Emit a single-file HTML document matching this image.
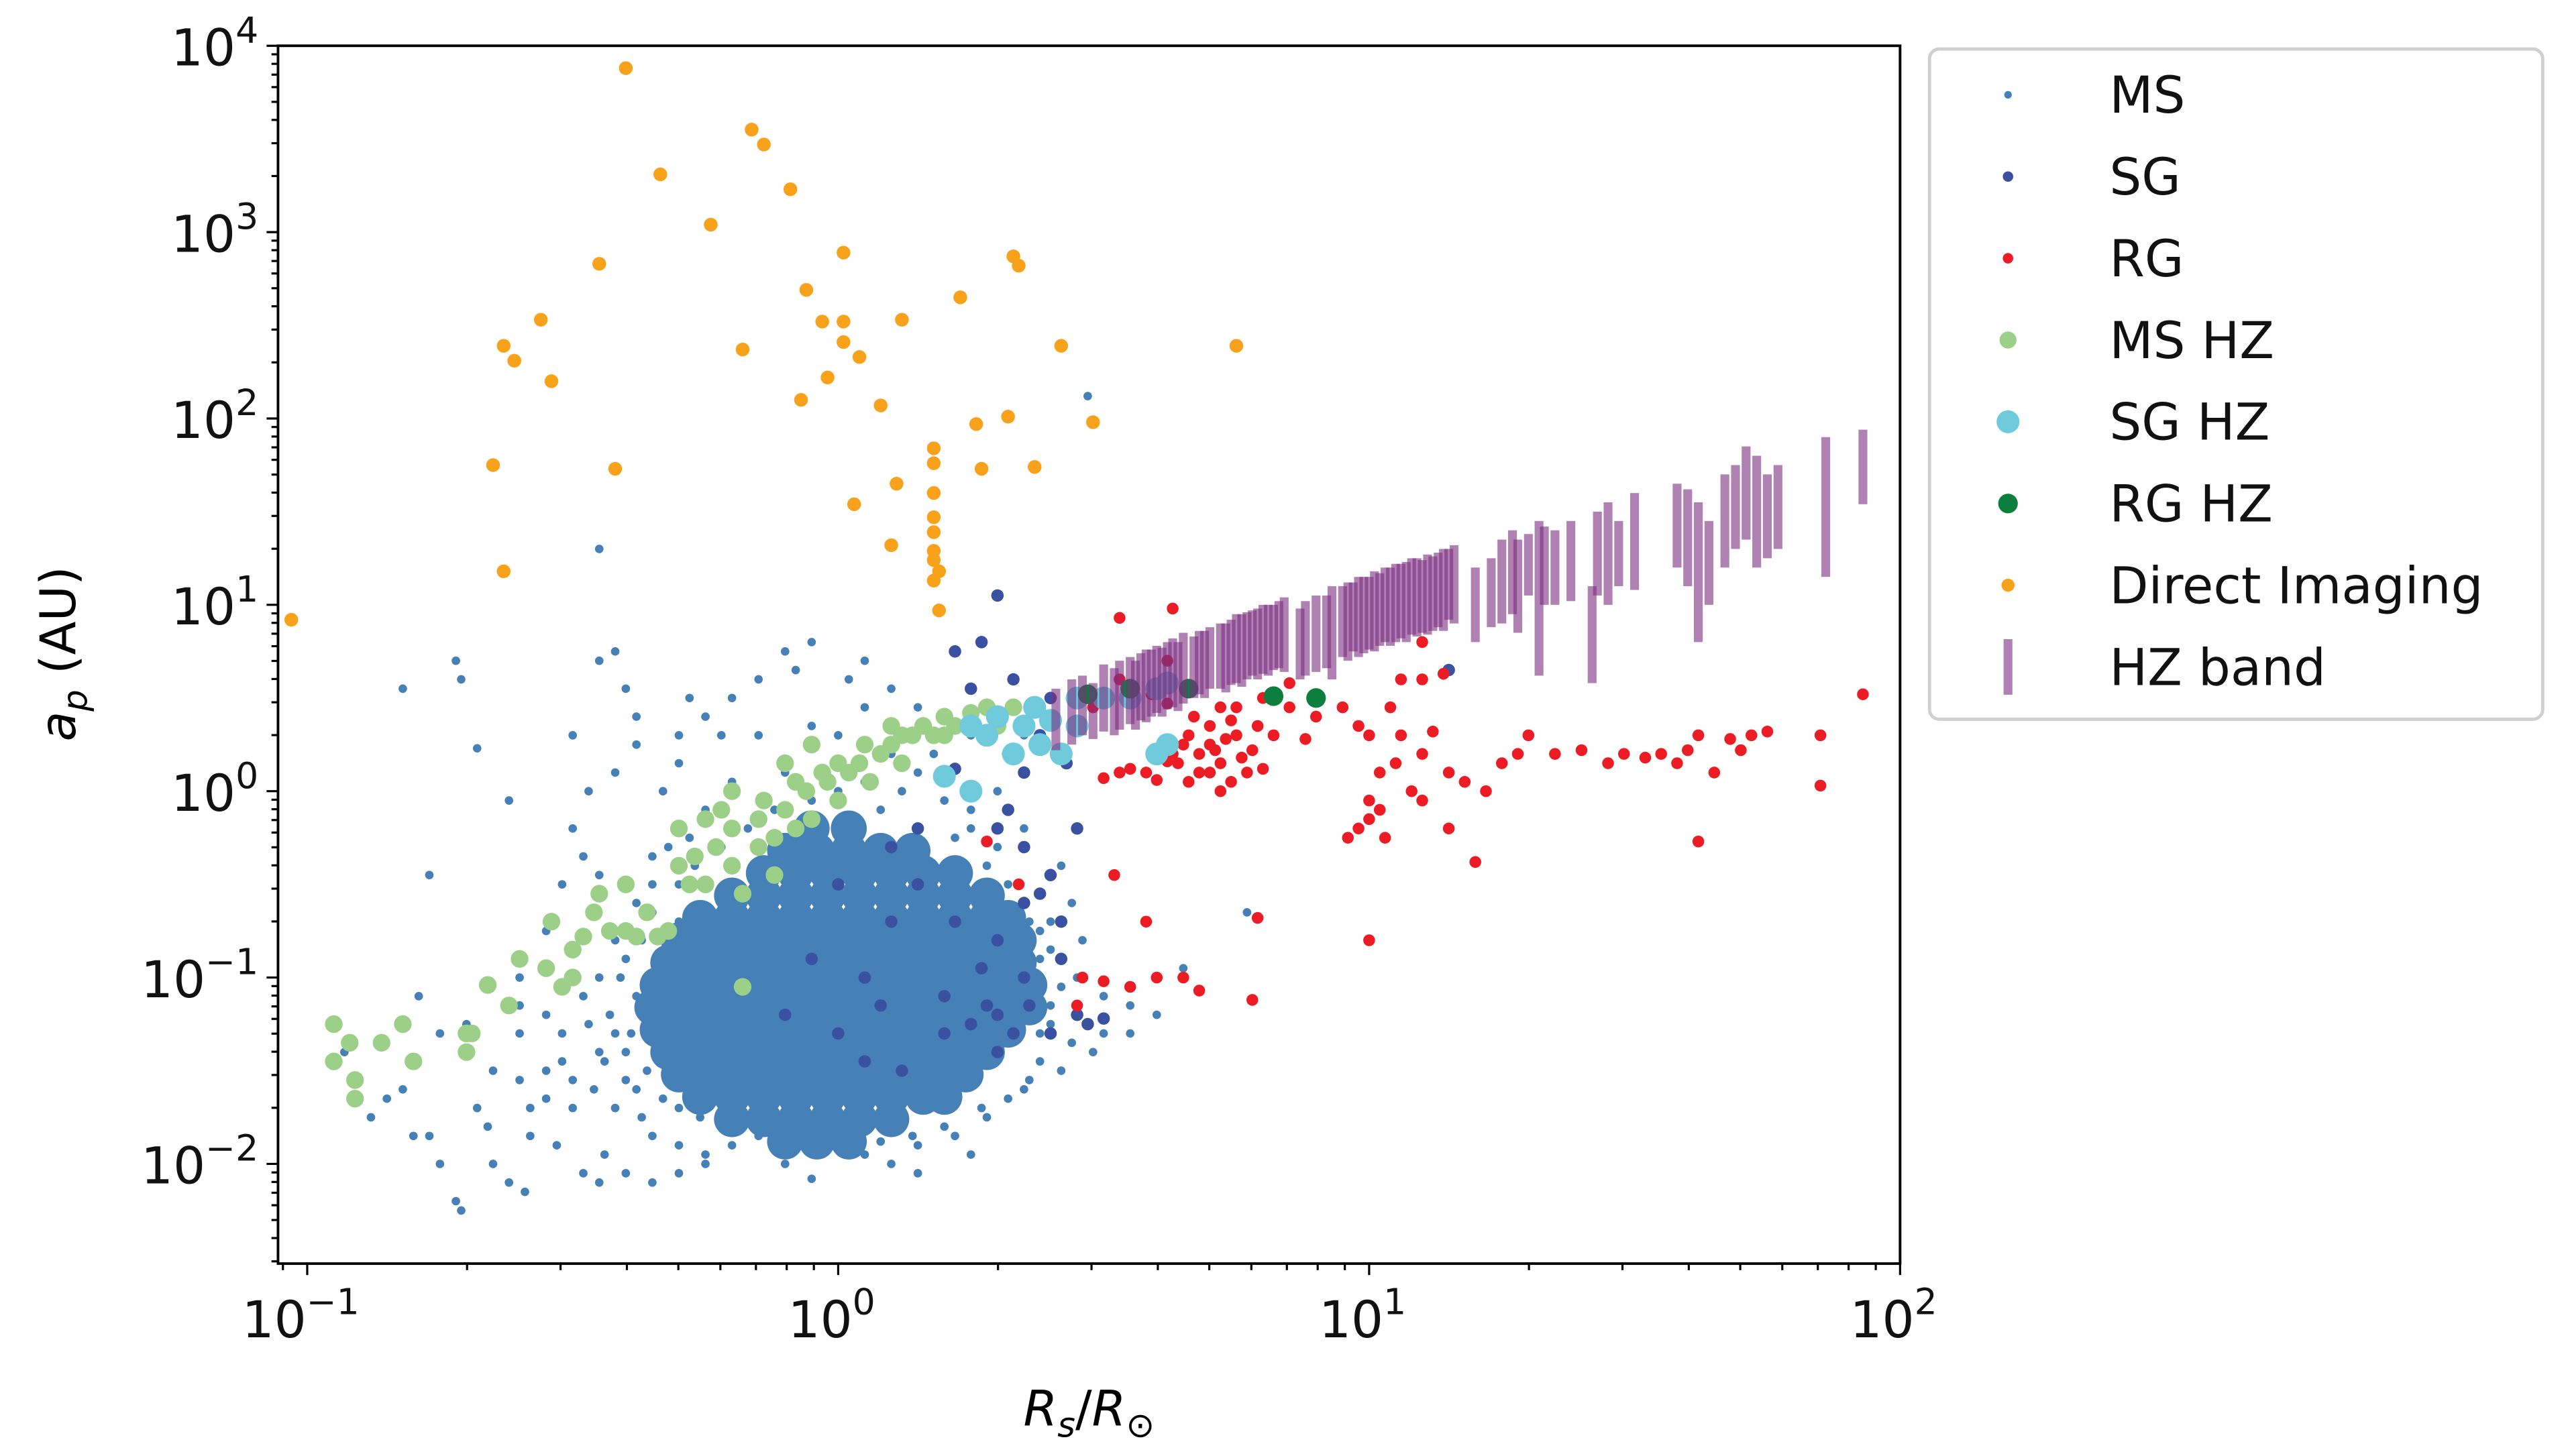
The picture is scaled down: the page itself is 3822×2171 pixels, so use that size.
<!DOCTYPE html>
<html><head><meta charset="utf-8"><style>
html,body{margin:0;padding:0;background:#fff;}
svg{display:block;font-family:"DejaVu Sans","Liberation Sans",sans-serif;}
</style></head><body>
<svg id="chart" width="3822" height="2171" viewBox="0 0 1568 890.7" xmlns="http://www.w3.org/2000/svg">
<rect width="1568" height="890.7" fill="#fff"/>
<g id="marks"></g>
<g id="axes"></g>
<g id="legend"></g>
</svg>
<script>
// ---- data (log10 values) ----
const xTicks = [-1, 0, 1, 2];
const yTicks = [-2, -1, 0, 1, 2, 3, 4];
const msScatter = [[-0.82,0.55],[-0.72,0.7],[-0.71,0.6],[-0.68,0.23],[-0.62,-0.05],[-0.77,-0.45],[-0.79,-1.1],[-0.85,-1.65],[-0.93,-1.4],[-0.82,-1.6],[-0.75,-1.3],[-0.7,-1.25],[-0.72,-2.2],[-0.71,-2.25],[-0.65,-2.0],[-0.62,-2.1],[-0.59,-2.15],[-0.6,-1.55],[-0.58,-1.7],[-0.66,-1.8],[-0.75,-2.0],[-0.77,-1.85],[-0.8,-1.85],[-0.88,-1.75],[-0.5,0.3],[-0.45,0.7],[-0.42,0.75],[-0.4,0.55],[-0.38,0.4],[-0.42,0.1],[-0.47,0.0],[-0.5,-0.2],[-0.48,-0.35],[-0.52,-0.5],[-0.55,-0.75],[-0.6,-1.0],[-0.55,-1.2],[-0.52,-1.45],[-0.55,-1.5],[-0.5,-1.7],[-0.53,-1.9],[-0.48,-2.05],[-0.45,-2.1],[-0.4,-2.05],[-0.44,-1.95],[-0.35,-2.1],[-0.3,-2.05],[-0.38,0.25],[-0.33,0.0],[-0.3,0.15],[-0.28,0.5],[-0.2,0.5],[-0.15,0.6],[-0.1,0.75],[-0.05,0.8],[-0.08,0.65],[0.02,0.6],[0.05,0.7],[0.1,0.55],[-0.25,-0.1],[-0.32,-0.3],[-0.38,-0.6],[-0.42,-0.8],[-0.45,-1.0],[-0.42,-1.3],[-0.4,-1.55],[-0.37,-1.75],[-0.35,-1.85],[-0.42,-1.7],[-0.46,-1.6],[-0.3,-1.9],[-0.25,-1.95],[-0.2,-1.9],[0.3,0.4],[0.35,0.3],[0.25,0.3],[0.3,0.0],[0.35,-0.2],[0.42,-0.4],[0.4,-0.7],[0.45,-1.0],[0.38,-1.3],[0.42,-1.5],[0.35,-1.6],[0.28,-1.75],[0.22,-1.85],[0.15,-1.9],[-0.45,1.3],[0.47,2.12],[0.77,-0.65],[0.65,-0.95],[-0.15,0.3],[-0.1,0.1],[0.0,0.3],[0.1,0.2],[0.2,0.1],[-0.35,-0.5],[-0.3,-0.7],[-0.45,-1.4],[-0.38,-1.1],[0.38,-0.9],[0.4,-1.15],[0.05,-1.95],[-0.1,-2.0],[0.1,-2.0],[-0.6,-1.3],[-0.65,-1.5],[-0.68,-1.7],[-0.58,-1.85],[-0.52,-1.3],[0.15,0.45],[-0.22,0.3],[0.25,-0.2],[-0.28,-0.25]];
const msEdge = [[-0.4,-0.9],[-0.41,-1.0],[-0.43,-1.2],[-0.44,-1.45],[-0.4,-1.4],[-0.38,-1.6],[-0.36,-1.5],[-0.39,-1.3],[-0.37,-0.8],[-0.35,-0.65],[-0.3,-0.5],[-0.27,-0.4],[-0.22,-0.3],[-0.17,-0.2],[-0.12,-0.1],[-0.05,-0.05],[0.0,0.0],[0.05,0.05],[0.08,-0.1],[0.12,0.0],[0.15,0.1],[0.2,-0.05],[0.22,-0.25],[0.28,-0.4],[0.32,-0.5],[0.36,-0.7],[0.38,-0.75],[0.4,-0.85],[0.42,-1.05],[0.4,-1.25],[0.44,-1.35],[0.38,-1.45],[0.36,-1.55],[0.32,-1.65],[0.27,-1.7],[0.2,-1.8],[0.14,-1.85],[0.08,-1.88],[0.0,-1.9],[-0.08,-1.92],[-0.15,-1.85],[-0.2,-1.78],[-0.26,-1.75],[-0.3,-1.7],[-0.33,-1.65],[-0.47,-1.25],[-0.48,-1.1],[-0.5,-1.55],[0.48,-1.4],[0.5,-1.3],[0.5,-1.1],[0.46,-0.8],[0.44,-0.6],[0.3,-0.3],[0.25,-0.1],[0.18,0.2],[-0.2,0.05],[-0.3,0.3],[-0.25,0.4],[0.05,0.45],[-0.05,0.35],[-0.45,-0.45],[-0.35,-0.35],[-0.6,-1.15],[-0.55,-1.65],[-0.05,-2.08],[0.15,-2.05],[0.25,-1.95],[-0.25,-2.0],[0.55,-1.15],[0.55,-1.3],[0.6,-1.2]];
const msCoreA = [-0.2,-0.32,-0.44,-0.56,-0.68,-0.8,-0.92,-1.04,-1.16,-1.28,-1.4,-1.52,-1.64,-1.76,-1.88];
const msCoreR = [[-0.05,0.02],[-0.1,-0.04,0.02,0.08,0.14],[-0.14,-0.08,-0.02,0.04,0.1,0.16,0.22],[-0.2,-0.14,-0.08,-0.02,0.04,0.1,0.16,0.22,0.28],[-0.26,-0.2,-0.14,-0.08,-0.02,0.04,0.1,0.16,0.22,0.28,0.32],[-0.3,-0.24,-0.18,-0.12,-0.06,0.0,0.06,0.12,0.18,0.24,0.3,0.34],[-0.32,-0.26,-0.2,-0.14,-0.08,-0.02,0.04,0.1,0.16,0.22,0.28,0.34],[-0.34,-0.28,-0.22,-0.16,-0.1,-0.04,0.02,0.08,0.14,0.2,0.26,0.32,0.36],[-0.35,-0.29,-0.23,-0.17,-0.11,-0.05,0.01,0.07,0.13,0.19,0.25,0.31,0.36],[-0.34,-0.28,-0.22,-0.16,-0.1,-0.04,0.02,0.08,0.14,0.2,0.26,0.32],[-0.32,-0.26,-0.2,-0.14,-0.08,-0.02,0.04,0.1,0.16,0.22,0.28],[-0.3,-0.24,-0.18,-0.12,-0.06,0.0,0.06,0.12,0.18,0.24],[-0.26,-0.2,-0.14,-0.08,-0.02,0.04,0.1,0.16,0.2],[-0.2,-0.14,-0.08,-0.02,0.04,0.1],[-0.1,-0.04,0.02]];
const sgPts = [[0.3,1.05],[0.27,0.8],[0.22,0.75],[0.33,0.6],[0.4,0.5],[0.38,0.3],[0.35,0.1],[0.32,-0.1],[0.35,-0.3],[0.4,-0.45],[0.35,-0.6],[0.3,-0.8],[0.35,-1.0],[0.28,-1.15],[0.25,-1.25],[0.3,-1.4],[0.4,-1.3],[0.45,-1.2],[0.42,-0.9],[0.2,-1.3],[0.1,-0.7],[0.05,-1.0],[-0.05,-0.9],[0.15,-0.5],[0.2,-1.1],[0.45,-0.2],[0.43,0.15],[0.25,0.55],[0.18,0.3],[0.22,0.12],[0.15,-0.2],[0.1,-0.3],[0.0,-0.5],[0.5,-1.22],[0.47,-1.25],[0.12,-1.5],[0.05,-1.45],[1.15,0.65],[0.82,0.52],[0.3,-1.2],[0.33,-1.3],[0.36,-1.15],[0.27,-0.95],[0.22,-0.7],[0.38,-0.55],[0.42,-0.7],[0.32,0.2],[0.3,-0.2],[-0.1,-1.2],[0.0,-1.3],[0.08,-1.15]];
const rgPts = [[0.5,0.07],[0.53,0.1],[0.55,0.12],[0.58,0.1],[0.6,0.06],[0.62,0.16],[0.63,0.2],[0.65,0.25],[0.66,0.3],[0.68,0.2],[0.68,0.1],[0.7,0.25],[0.7,0.35],[0.72,0.15],[0.73,0.28],[0.74,0.05],[0.75,0.3],[0.76,0.18],[0.77,0.1],[0.78,0.22],[0.79,0.35],[0.8,0.12],[0.82,0.3],[0.8,0.5],[0.72,0.45],[0.62,0.47],[0.59,0.52],[0.53,0.6],[0.53,0.93],[0.62,0.7],[0.85,0.45],[0.88,0.28],[0.9,0.4],[0.95,0.45],[0.98,0.35],[1.0,0.3],[1.02,0.1],[1.05,0.15],[1.06,0.3],[1.1,0.2],[1.12,0.32],[1.15,0.1],[1.08,0.0],[1.02,-0.1],[1.0,-0.15],[1.03,-0.25],[0.98,-0.2],[0.96,-0.25],[1.04,0.45],[1.06,0.6],[1.1,0.6],[1.0,-0.05],[1.1,-0.05],[1.15,-0.2],[1.2,-0.38],[1.18,0.05],[1.22,0.0],[1.25,0.15],[1.28,0.2],[1.3,0.3],[1.35,0.2],[1.4,0.22],[1.45,0.15],[1.48,0.2],[1.52,0.18],[1.55,0.2],[1.58,0.15],[1.6,0.22],[1.62,0.3],[1.65,0.1],[1.68,0.28],[1.7,0.22],[1.72,0.3],[1.75,0.32],[1.62,-0.27],[1.85,0.03],[1.85,0.3],[1.93,0.52],[0.28,-0.27],[0.34,-0.5],[0.52,-0.45],[0.58,-0.7],[0.46,-1.0],[0.5,-1.02],[0.55,-1.05],[0.6,-1.0],[0.65,-1.0],[0.68,-1.07],[0.45,-1.15],[0.78,-1.12],[0.79,-0.68],[1.0,-0.8],[0.48,0.45],[0.85,0.58],[0.63,0.98],[1.14,0.63],[1.1,0.8],[0.75,0.45],[0.64,0.15],[0.66,0.05],[0.7,0.1],[0.72,0.0],[0.6,0.2],[0.67,0.4],[0.71,0.22],[0.74,0.38]];
const msHzPts = [[-0.95,-1.25],[-0.95,-1.45],[-0.92,-1.35],[-0.91,-1.55],[-0.91,-1.65],[-0.86,-1.35],[-0.82,-1.25],[-0.8,-1.45],[-0.7,-1.3],[-0.69,-1.3],[-0.66,-1.04],[-0.62,-1.15],[-0.55,-0.95],[-0.54,-0.7],[-0.52,-1.05],[-0.5,-0.85],[-0.48,-0.78],[-0.45,-0.55],[-0.43,-0.75],[-0.4,-0.75],[-0.38,-0.78],[-0.36,-0.65],[-0.34,-0.78],[-0.32,-0.75],[-0.3,-0.4],[-0.28,-0.5],[-0.27,-0.35],[-0.25,-0.5],[-0.23,-0.3],[-0.2,-0.4],[-0.2,-0.2],[-0.18,-0.55],[-0.15,-0.3],[-0.15,-0.15],[-0.12,-0.25],[-0.1,-0.1],[-0.08,-0.2],[-0.06,0.0],[-0.05,-0.15],[-0.02,0.05],[0.0,-0.05],[0.02,0.1],[0.04,0.15],[0.06,0.05],[0.08,0.2],[0.1,0.25],[0.12,0.15],[0.14,0.3],[0.16,0.35],[0.18,0.3],[0.2,0.4],[0.22,0.35],[0.25,0.42],[0.28,0.45],[0.3,0.35],[0.33,0.45],[-0.1,0.15],[-0.2,0.0],[-0.3,-0.2],[-0.25,-0.15],[-0.05,0.25],[0.1,0.35],[-0.12,-0.45],[-0.4,-0.5],[-0.5,-1.0],[-0.46,-0.65],[-0.6,-0.9],[-0.7,-1.4],[-0.18,-1.05],[-0.08,0.05],[-0.03,0.1],[0.0,0.15],[-0.14,-0.05],[-0.22,-0.1],[0.05,0.25],[0.12,0.3],[0.2,0.3]];
const sgHzPts = [[0.2,0.08],[0.25,0.0],[0.33,0.2],[0.28,0.3],[0.3,0.4],[0.35,0.35],[0.37,0.45],[0.4,0.38],[0.38,0.25],[0.42,0.2],[0.45,0.5],[0.5,0.5],[0.55,0.5],[0.6,0.55],[0.62,0.58],[0.6,0.2],[0.62,0.25],[0.25,0.35],[0.45,0.35]];
const rgHzPts = [[0.47,0.52],[0.55,0.55],[0.82,0.51],[0.9,0.5],[0.66,0.55]];
const diPts = [[-0.40,3.88],[-0.163,3.55],[-0.14,3.47],[-0.335,3.31],[-0.09,3.23],[-0.24,3.04],[0.01,2.89],[-0.45,2.83],[0.33,2.87],[0.34,2.82],[-0.06,2.69],[0.23,2.65],[-0.56,2.53],[-0.03,2.52],[0.01,2.52],[0.12,2.53],[-0.63,2.39],[0.42,2.39],[0.01,2.41],[-0.18,2.37],[-0.61,2.31],[0.04,2.33],[0.75,2.39],[-0.02,2.22],[-0.54,2.20],[-0.07,2.10],[0.08,2.07],[0.26,1.97],[0.32,2.01],[0.48,1.98],[0.18,1.84],[0.18,1.76],[-0.65,1.75],[-0.42,1.73],[0.27,1.73],[0.37,1.74],[0.11,1.65],[0.18,1.60],[0.03,1.54],[0.18,1.47],[0.18,1.39],[0.10,1.32],[0.18,1.29],[0.18,1.24],[0.19,1.18],[-0.63,1.18],[0.18,1.13],[-1.03,0.92],[0.19,0.97]];
const hzR = [0.41,0.44,0.46,0.48,0.5,0.52,0.53,0.55,0.56,0.57,0.58,0.59,0.6,0.61,0.62,0.63,0.64,0.65,0.67,0.68,0.69,0.7,0.72,0.73,0.74,0.75,0.76,0.77,0.78,0.79,0.8,0.81,0.82,0.83,0.84,0.87,0.88,0.9,0.92,0.93,0.95,0.96,0.97,0.98,0.99,1.0,1.01,1.02,1.03,1.04,1.05,1.06,1.07,1.08,1.09,1.1,1.11,1.12,1.13,1.14,1.15,1.16,1.2,1.23,1.25,1.27,1.28,1.3,1.32,1.33,1.35,1.38,1.42,1.43,1.45,1.47,1.5,1.58,1.6,1.62,1.64,1.67,1.69,1.71,1.73,1.75,1.77,1.86,1.93];
const hzLo = [0.22,0.25,0.3,0.28,0.32,0.3,0.33,0.36,0.33,0.38,0.37,0.4,0.42,0.4,0.44,0.45,0.43,0.47,0.5,0.52,0.5,0.55,0.55,0.53,0.57,0.58,0.56,0.6,0.62,0.6,0.63,0.62,0.65,0.66,0.64,0.6,0.62,0.64,0.66,0.6,0.72,0.7,0.75,0.72,0.74,0.76,0.75,0.78,0.8,0.78,0.8,0.82,0.8,0.84,0.83,0.85,0.84,0.86,0.88,0.86,0.92,0.9,0.8,0.88,0.9,0.95,0.85,1.05,0.62,1.0,1.0,1.02,0.58,1.05,1.0,1.1,1.08,1.2,1.1,0.8,1.0,1.2,1.3,1.35,1.2,1.25,1.3,1.15,1.54];
const hzHi = [0.55,0.6,0.62,0.58,0.68,0.66,0.7,0.72,0.7,0.74,0.76,0.76,0.78,0.77,0.8,0.82,0.8,0.85,0.83,0.86,0.86,0.88,0.9,0.9,0.92,0.95,0.95,0.96,0.97,0.98,1.0,1.0,1.0,1.02,1.04,0.98,1.02,1.05,1.05,1.1,1.1,1.12,1.12,1.15,1.15,1.15,1.18,1.17,1.2,1.2,1.22,1.22,1.23,1.25,1.25,1.24,1.27,1.26,1.28,1.3,1.3,1.32,1.2,1.25,1.35,1.4,1.35,1.38,1.45,1.42,1.4,1.45,1.1,1.5,1.55,1.45,1.6,1.65,1.62,1.55,1.45,1.7,1.75,1.85,1.8,1.7,1.75,1.9,1.94];
const legendLabels = ["MS","SG","RG","MS HZ","SG HZ","RG HZ","Direct Imaging","HZ band"];

// ---- axes functions ----
const PL=170, PR=1162, PT=28, PB=773;
const XMIN=-1.055, XMAX=2, YMIN=-2.535, YMAX=4.0;
function sx(v){return PL+(v-XMIN)/(XMAX-XMIN)*(PR-PL);}
function sy(v){return PB-(v-YMIN)/(YMAX-YMIN)*(PB-PT);}
const NS="http://www.w3.org/2000/svg";
function mk(tag,parent){const e=document.createElementNS(NS,tag);parent.appendChild(e);return e;}
const marks=document.getElementById('marks');
const axes=document.getElementById('axes');
const legend=document.getElementById('legend');

function dots(pts,r,color,name,op){
  const g=mk('g',marks);
  
  
  pts.forEach(p=>{const c=mk('circle',g);
    
    
    c.setAttribute('cx',sx(p[0]));c.setAttribute('cy',sy(p[1]));c.setAttribute('r',r);c.setAttribute('fill',color);
    if(op)c.setAttribute('fill-opacity',op);});
}
// MS core (dense region)
const coreG=mk('g',marks);


msCoreA.forEach((a,i)=>msCoreR[i].forEach(r=>{const c=mk('circle',coreG);
  
  
  c.setAttribute('cx',sx(r));c.setAttribute('cy',sy(a));c.setAttribute('r',11);c.setAttribute('fill','#4580b6');}));
dots(msScatter,2.6,'#4580b6','ms');
dots(msEdge,2.6,'#4580b6','ms-edge');
dots(sgPts,3.8,'#3a51a2','sg');
dots(rgPts,3.6,'#ec1c24','rg');
dots(msHzPts,5.4,'#9ccf88','ms-hz');
dots(sgHzPts,7,'#6fcbdc','sg-hz');
dots(rgHzPts,6,'#0c7f3e','rg-hz');
dots(diPts,4.2,'#f8a11b','direct-imaging');
// HZ bands
const hzG=mk('g',marks);


hzR.forEach((r,i)=>{const b=mk('rect',hzG);
  
  
  const y1=sy(hzHi[i]),y2=sy(hzLo[i]);
  b.setAttribute('x',sx(r)-2.7);b.setAttribute('width',5.4);b.setAttribute('y',y1);b.setAttribute('height',y2-y1);
  b.setAttribute('fill','#7b2d80');b.setAttribute('fill-opacity','0.6');});

// frame
const fr=mk('rect',axes);


fr.setAttribute('x',PL);fr.setAttribute('y',PT);fr.setAttribute('width',PR-PL);fr.setAttribute('height',PB-PT);
fr.setAttribute('fill','none');fr.setAttribute('stroke','#000');fr.setAttribute('stroke-width','1.6');
function line(x1,y1,x2,y2,name){const l=mk('line',axes);
  
  
  l.setAttribute('x1',x1);l.setAttribute('y1',y1);l.setAttribute('x2',x2);l.setAttribute('y2',y2);l.setAttribute('stroke','#000');l.setAttribute('stroke-width','1.3');}
function tickLabel(x,y,exp,anchor,name){const t=mk('text',axes);
  
  
  t.setAttribute('x',x);t.setAttribute('y',y);t.setAttribute('font-size','31');t.setAttribute('text-anchor',anchor);t.setAttribute('fill','#111');
  const a=mk('tspan',t);a.textContent='10';
  const b=mk('tspan',t);b.setAttribute('font-size','22');b.setAttribute('dy','-14');b.textContent=exp<0?'\u2212'+(-exp):String(exp);}
xTicks.forEach(v=>{line(sx(v),PB,sx(v),PB+7,'x-major-tick');tickLabel(sx(v)-4,PB+45,v,'middle','x-tick-label');});
yTicks.forEach(v=>{line(PL-7,sy(v),PL,sy(v),'y-major-tick');tickLabel(PL-12,sy(v)+12,v,'end','y-tick-label');});
for(let d=-2;d<=1;d++)for(let m=2;m<=9;m++){const v=d+Math.log10(m);if(v>XMIN&&v<XMAX)line(sx(v),PB,sx(v),PB+4,'x-minor-tick');}
for(let d=-3;d<=3;d++)for(let m=2;m<=9;m++){const v=d+Math.log10(m);if(v>YMIN&&v<YMAX)line(PL-4,sy(v),PL,sy(v),'y-minor-tick');}
// axis titles
const xt=mk('text',axes);


xt.setAttribute('x',666);xt.setAttribute('y',872);xt.setAttribute('font-size','30');xt.setAttribute('text-anchor','middle');
xt.innerHTML='<tspan font-style="italic">R</tspan><tspan font-style="italic" font-size="21" dy="7">s</tspan><tspan dy="-7">/</tspan><tspan font-style="italic">R</tspan><tspan font-size="21" dy="7">\u2299</tspan>';
const yt=mk('text',axes);


yt.setAttribute('transform','translate(46,400) rotate(-90)');yt.setAttribute('font-size','30');yt.setAttribute('text-anchor','middle');
yt.innerHTML='<tspan font-style="italic">a</tspan><tspan font-style="italic" font-size="21" dy="7">p</tspan><tspan dy="-7"> (AU)</tspan>';

// legend
const lb=mk('rect',legend);


lb.setAttribute('x',1180);lb.setAttribute('y',30);lb.setAttribute('width',375);lb.setAttribute('height',410);lb.setAttribute('rx',6);
lb.setAttribute('fill','#fff');lb.setAttribute('stroke','#d0d0d0');lb.setAttribute('stroke-width','2');
const legColors=['#4580b6','#3a51a2','#ec1c24','#9ccf88','#6fcbdc','#0c7f3e','#f8a11b','#7b2d80'];
const legR=[2.3,3.2,3.2,5.2,7,6,4,0];
legendLabels.forEach((lab,i)=>{const y=58+i*50;
  const g=mk('g',legend);
  
  
  if(i<7){const c=mk('circle',g);c.setAttribute('cx',1228);c.setAttribute('cy',y);c.setAttribute('r',legR[i]);c.setAttribute('fill',legColors[i]);}
  else{const r=mk('rect',g);r.setAttribute('x',1225.3);r.setAttribute('y',y-17);r.setAttribute('width',5.4);r.setAttribute('height',34);r.setAttribute('fill',legColors[i]);r.setAttribute('fill-opacity','0.6');}
  const t=mk('text',g);t.setAttribute('x',1290);t.setAttribute('y',y+11);t.setAttribute('font-size','31');t.setAttribute('fill','#111');t.textContent=lab;});
</script>
</body></html>
